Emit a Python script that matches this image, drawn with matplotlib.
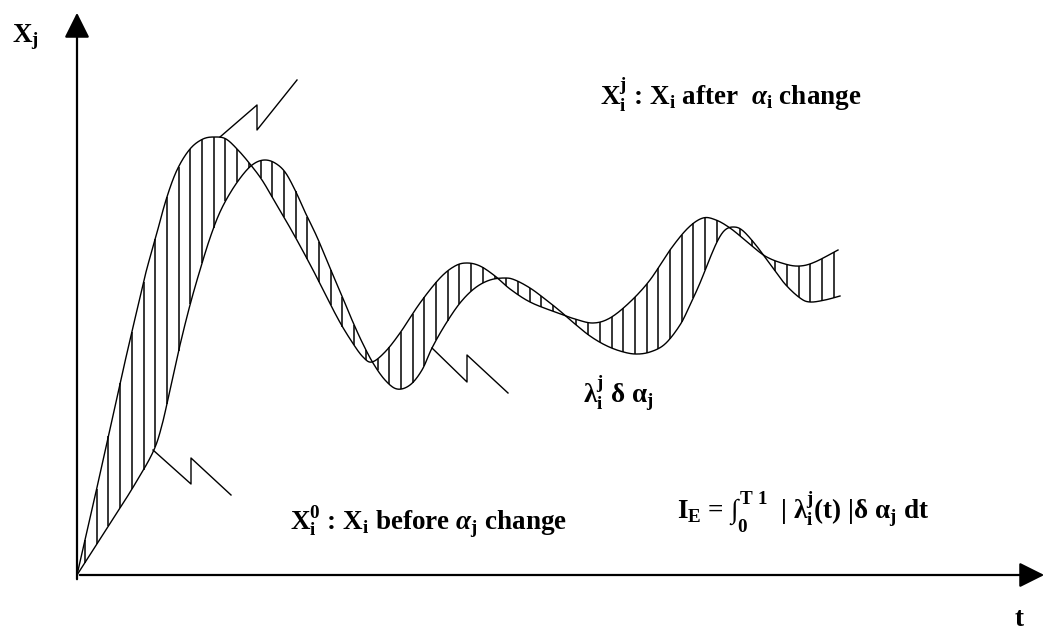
import matplotlib.pyplot as plt
import numpy as np

plt.rcParams['font.family'] = 'serif'
plt.rcParams['font.serif'] = ['Liberation Serif', 'DejaVu Serif']
plt.rcParams['font.weight'] = 'bold'
plt.rcParams['mathtext.fontset'] = 'custom'
plt.rcParams['mathtext.rm'] = 'Liberation Serif:bold'
plt.rcParams['mathtext.bf'] = 'Liberation Serif:bold'
plt.rcParams['mathtext.it'] = 'Liberation Serif:bold:italic'
plt.rcParams['mathtext.default'] = 'bf'

# response after the parameter change (leads, higher peaks)
curveAfter = [(77, 575), (88, 527), (100, 474), (112, 420), (124, 366), (137, 310),
              (146, 272), (155, 240), (166, 200), (177, 170), (190, 149), (203, 139),
              (215, 137), (226, 139), (238, 150), (250, 164), (262, 180), (275, 202),
              (293, 233), (313, 270), (337, 317), (352, 342), (363, 357), (372, 362),
              (385, 352), (400, 333), (420, 303), (440, 278), (455, 266), (467, 263),
              (480, 266), (495, 276), (510, 289), (530, 302), (555, 312), (575, 319),
              (593, 323), (610, 318), (630, 302), (650, 280), (670, 250), (688, 228),
              (703, 218), (716, 220), (730, 228), (745, 240), (765, 256), (785, 264),
              (800, 266), (815, 262), (838, 250)]

# response before the parameter change
curveBefore = [(77, 575), (95, 547), (115, 516), (135, 484), (153, 452), (162, 425),
               (171, 385), (180, 345), (190, 305), (200, 270), (210, 238), (220, 212),
               (232, 190), (245, 172), (255, 163), (265, 160), (275, 163), (285, 172),
               (295, 190), (305, 212), (317, 237), (330, 268), (342, 296), (352, 320),
               (362, 342), (373, 363), (385, 380), (397, 389), (410, 385), (422, 370),
               (432, 348), (445, 325), (460, 303), (475, 288), (490, 280), (505, 278),
               (515, 280), (530, 288), (545, 299), (560, 311), (575, 324), (590, 336),
               (605, 345), (620, 351), (635, 354), (650, 352), (665, 344), (680, 325),
               (690, 305), (700, 283), (710, 258), (718, 240), (725, 230), (733, 227),
               (742, 230), (755, 244), (770, 264), (785, 284), (800, 298), (810, 302),
               (825, 300), (840, 296)]

# zig-zag leaders from the curves to the labels
boltTop = [(220, 137), (257, 105), (257, 130), (297, 80)]
boltMid = [(432, 348), (467, 382), (467, 355), (508, 393)]
boltLow = [(153, 450), (191, 484), (191, 458), (231, 495)]

labelAfter = r'$X_i^j$ : X$_\mathrm{i}$ after  $\mathit{\alpha}_i$ change'
labelBefore = r'$X_i^0$ : X$_\mathrm{i}$ before $\mathit{\alpha}_j$ change'
labelLambda = r'$\lambda_i^j$ δ $\alpha_j$'
labelIndex = r'I$_\mathrm{E}$ = $\int_0^{T\ 1}$  | $\lambda_i^j$(t) |δ $\alpha_j$ dt'


def smooth(pts, n=16):
    # Catmull-Rom spline through the given points
    p = np.array(pts, float)
    p = np.vstack([p[0], p, p[-1]])
    t = np.linspace(0, 1, n, endpoint=False)[:, None]
    out = []
    for i in range(1, len(p) - 2):
        p0, p1, p2, p3 = p[i - 1], p[i], p[i + 1], p[i + 2]
        out.append(0.5 * (2 * p1 + (-p0 + p2) * t
                          + (2 * p0 - 5 * p1 + 4 * p2 - p3) * t ** 2
                          + (-p0 + 3 * p1 - 3 * p2 + p3) * t ** 3))
    out.append(p[-2][None])
    return np.vstack(out)


fig = plt.figure(figsize=(10.49, 6.30), dpi=100)
ax = fig.add_axes([0, 0, 1, 1])
ax.set_xlim(0, 1049)
ax.set_ylim(630, 0)
ax.axis('off')

# axes with arrow heads
ax.annotate('', xy=(77, 10), xytext=(77, 582),
            arrowprops=dict(arrowstyle='-|>,head_length=0.7,head_width=0.35',
                            lw=1.6, color='black', mutation_scale=22))
ax.annotate('', xy=(1047, 575), xytext=(77, 575),
            arrowprops=dict(arrowstyle='-|>,head_length=0.7,head_width=0.35',
                            lw=1.6, color='black', mutation_scale=22))

a = smooth(curveAfter)
b = smooth(curveBefore)
ax.plot(a[:, 0], a[:, 1], color='black', lw=1.0)
ax.plot(b[:, 0], b[:, 1], color='black', lw=1.0)

# vertical hatching between the two responses
hx = np.arange(85, 841, 11.7)
ya = np.interp(hx, a[:, 0], a[:, 1])
yb = np.interp(hx, b[:, 0], b[:, 1])
ax.vlines(hx, np.minimum(ya, yb), np.maximum(ya, yb), color='black', lw=1.1)

for bolt in (boltTop, boltMid, boltLow):
    bx, by = zip(*bolt)
    ax.plot(bx, by, color='black', lw=1.0)

fs = 19.5
ax.text(12, 42, r'$X_j$', fontsize=fs, ha='left', va='baseline')
ax.text(1015, 626, 't', fontsize=fs, ha='left', va='baseline')
ax.text(600, 106, labelAfter, fontsize=fs, ha='left', va='baseline')
ax.text(583, 403, labelLambda, fontsize=fs, ha='left', va='baseline')
ax.text(290, 530, labelBefore, fontsize=fs, ha='left', va='baseline')
ax.text(677, 520, labelIndex, fontsize=fs, ha='left', va='baseline')

fig.savefig('out.png', dpi=100)
